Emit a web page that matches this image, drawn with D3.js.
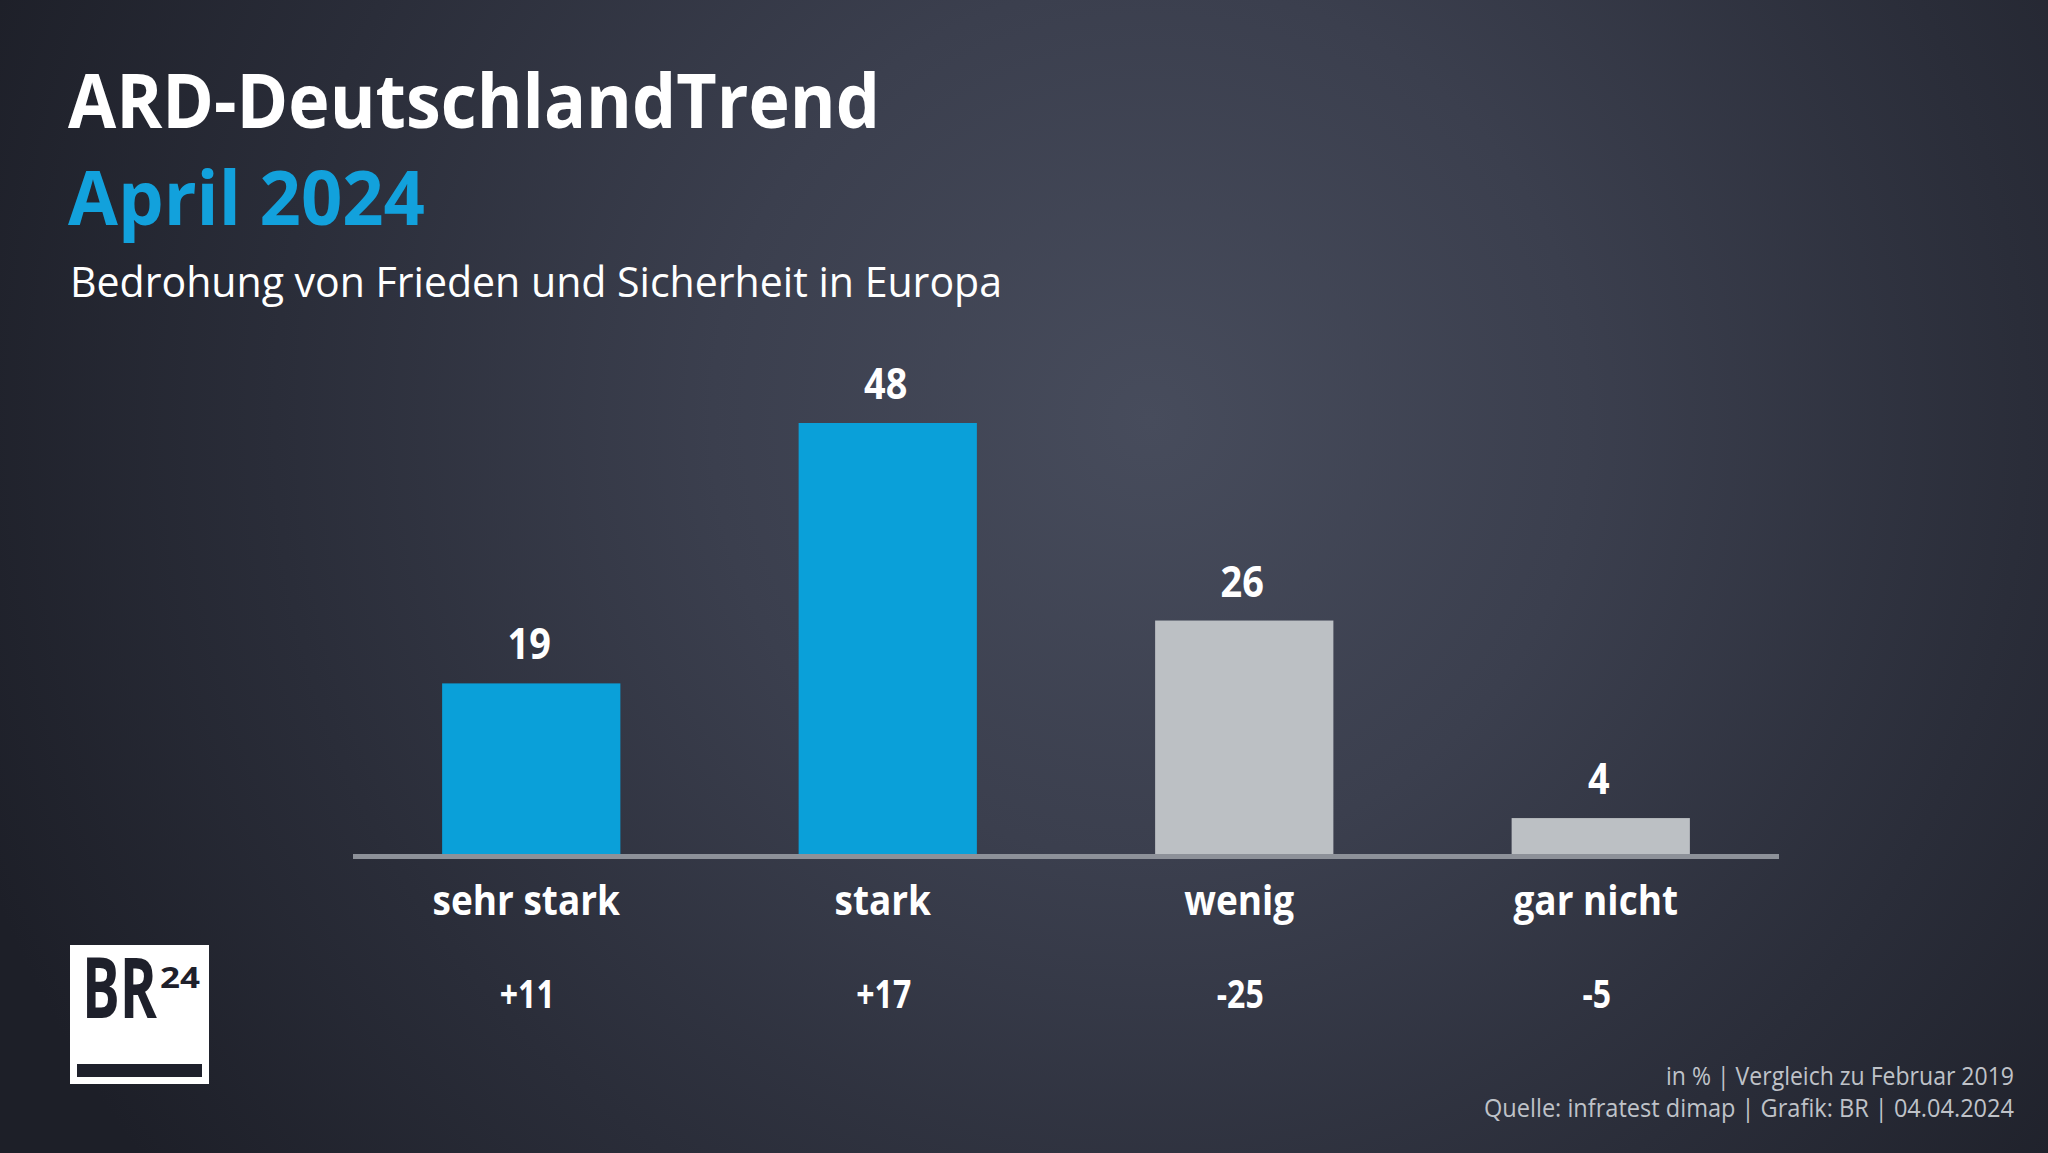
<!DOCTYPE html>
<html>
<head>
<meta charset="utf-8">
<script src="https://cdn.jsdelivr.net/npm/d3@7"></script>
<style>
  html, body { margin: 0; padding: 0; background: #262833; overflow: hidden; }
  svg { display: block; }
  text { font-family: "Open Sans", "Noto Sans", sans-serif; }
</style>
</head>
<body>
<svg id="chart" width="2048" height="1153"></svg>
<script>
// ---- data ----
const categories = ["sehr stark", "stark", "wenig", "gar nicht"];
const values = [19, 48, 26, 4];
const changes = ["+11", "+17", "-25", "-5"];
const highlight = [true, true, false, false];
const titleText = "ARD-DeutschlandTrend";
const dateText = "April 2024";
const subtitleText = "Bedrohung von Frieden und Sicherheit in Europa";
const footerLines = ["in % | Vergleich zu Februar 2019", "Quelle: infratest dimap | Grafik: BR | 04.04.2024"];

const W = 2048, H = 1153;
const svg = d3.select("#chart");

// background
const defs = svg.append("defs");
const rg = defs.append("radialGradient").attr("id", "bg")
  .attr("gradientUnits", "userSpaceOnUse")
  .attr("cx", 1150).attr("cy", 420).attr("r", 1250);
rg.append("stop").attr("offset", "0").attr("stop-color", "#474c5c");
rg.append("stop").attr("offset", "0.35").attr("stop-color", "#3b3f4e");
rg.append("stop").attr("offset", "0.7").attr("stop-color", "#2a2d39");
rg.append("stop").attr("offset", "1").attr("stop-color", "#1d1f28");
svg.append("rect").attr("width", W).attr("height", H).attr("fill", "url(#bg)");

function fit(sel, width) {
  sel.attr("textLength", width).attr("lengthAdjust", "spacingAndGlyphs");
}
function condense(sel, k) {
  sel.each(function() {
    const L = this.getComputedTextLength();
    d3.select(this).attr("textLength", L * k).attr("lengthAdjust", "spacingAndGlyphs");
  });
}

// titles
svg.append("text").attr("x", 68).attr("y", 128)
  .attr("font-size", 75).attr("font-weight", 700).attr("fill", "#ffffff")
  .text(titleText).call(fit, 812);
svg.append("text").attr("x", 68).attr("y", 225)
  .attr("font-size", 75).attr("font-weight", 700).attr("fill", "#12a1dc")
  .text(dateText).call(fit, 357);
svg.append("text").attr("x", 70).attr("y", 297)
  .attr("font-size", 42).attr("font-weight", 400).attr("fill", "#ffffff")
  .text(subtitleText).call(fit, 932);

// scales
const x = d3.scaleBand().domain(categories).range([353, 1779])
  .paddingInner(0.5).paddingOuter(0.25);
const y = d3.scaleLinear().domain([0, d3.max(values)]).range([854, 423]);

const data = categories.map((c, i) => ({ c, v: values[i], d: changes[i], h: highlight[i] }));

// bars
svg.append("g").selectAll("rect").data(data).join("rect")
  .attr("x", d => x(d.c)).attr("width", x.bandwidth())
  .attr("y", d => y(d.v)).attr("height", d => y(0) - y(d.v))
  .attr("fill", d => d.h ? "#0aa0d9" : "#bcc0c4");

// baseline
svg.append("rect").attr("x", x.range()[0]).attr("width", x.range()[1] - x.range()[0])
  .attr("y", y(0)).attr("height", 5).attr("fill", "#8d9199");

// value labels
svg.append("g").selectAll("text").data(data).join("text")
  .attr("x", d => x(d.c) + x.bandwidth() / 2 - 2).attr("y", d => y(d.v) - 24)
  .attr("text-anchor", "middle").attr("font-size", 43).attr("font-weight", 700)
  .attr("fill", "#ffffff").text(d => d.v).call(condense, 0.88);

// category labels
svg.append("g").selectAll("text").data(data).join("text")
  .attr("x", d => x(d.c) + x.bandwidth() / 2 - 5).attr("y", 915)
  .attr("text-anchor", "middle").attr("font-size", 42).attr("font-weight", 700)
  .attr("fill", "#ffffff").text(d => d.c).call(condense, 0.88);

// change labels
svg.append("g").selectAll("text").data(data).join("text")
  .attr("x", d => x(d.c) + x.bandwidth() / 2 - 4).attr("y", 1008)
  .attr("text-anchor", "middle").attr("font-size", 40).attr("font-weight", 700)
  .attr("fill", "#ffffff").text(d => d.d).call(condense, 0.8);

// logo
const logo = svg.append("g");
logo.append("rect").attr("x", 70).attr("y", 945).attr("width", 139).attr("height", 139).attr("fill", "#ffffff");
const lt = logo.append("text").attr("x", 82).attr("y", 1018).attr("font-weight", 700).attr("fill", "#1e202b");
lt.append("tspan").attr("font-size", 84).text("BR").call(fit, 75);
lt.append("tspan").attr("font-size", 28).attr("dx", 3).attr("dy", -30).text("24").call(fit, 40);
logo.append("rect").attr("x", 77).attr("y", 1064).attr("width", 125).attr("height", 13).attr("fill", "#1e202b");

// footer
const fw = [348, 530];
svg.append("g").selectAll("text").data(footerLines).join("text")
  .attr("x", 2014).attr("y", (d, i) => 1085 + i * 32)
  .attr("text-anchor", "end").attr("font-size", 25).attr("font-weight", 400)
  .attr("fill", "#bfc2c8").text(d => d)
  .each(function(d, i) { d3.select(this).call(fit, fw[i]); });
</script>
</body>
</html>
